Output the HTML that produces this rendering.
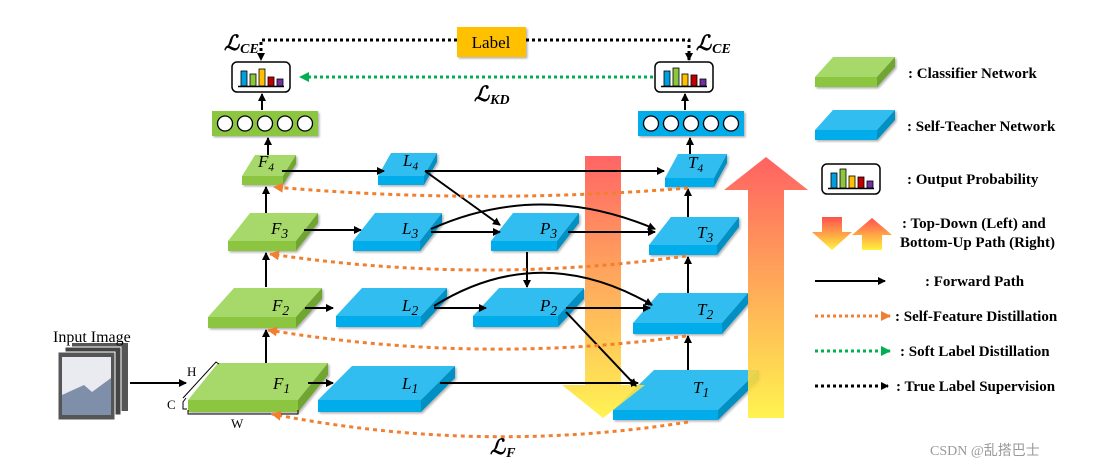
<!DOCTYPE html>
<html><head><meta charset="utf-8"><style>
html,body{margin:0;padding:0;background:#fff;}
svg text{font-family:"Liberation Serif",serif;}
.it{font-style:italic;font-size:17px;}
.lg{font-weight:bold;font-size:15px;}
</style></head><body>
<svg id="s" width="1097" height="467" viewBox="0 0 1097 467" xmlns="http://www.w3.org/2000/svg">
<defs>
<linearGradient id="gd" x1="0" y1="0" x2="0" y2="1"><stop offset="0" stop-color="#FF5050"/><stop offset="1" stop-color="#FFF23C"/></linearGradient>
<marker id="ab" markerWidth="8" markerHeight="8" refX="7" refY="4" orient="auto" markerUnits="userSpaceOnUse"><path d="M0,0L8,4L0,8z" fill="#000"/></marker>
<marker id="ao" markerWidth="10" markerHeight="10" refX="9" refY="5" orient="auto" markerUnits="userSpaceOnUse"><path d="M0,0L10,5L0,10z" fill="#F08030"/></marker>
<marker id="ag" markerWidth="10" markerHeight="10" refX="9" refY="5" orient="auto" markerUnits="userSpaceOnUse"><path d="M0,0L10,5L0,10z" fill="#00B050"/></marker>
<filter id="sh"><feDropShadow dx="1.5" dy="1.5" stdDeviation="1" flood-opacity="0.3"/></filter>
</defs>
<g id="blocks"></g>
<g id="over"></g>
</svg>
<script>
const NS="http://www.w3.org/2000/svg";
const svg=document.getElementById('s');
function el(tag,attrs,parent,txt){const e=document.createElementNS(NS,tag);for(const k in attrs)e.setAttribute(k,attrs[k]);if(txt!==undefined)e.textContent=txt;(parent||svg).appendChild(e);return e;}
const B=document.getElementById('blocks');
function slab(x0,x1,y0,y1,t,s,c,p){
 const g=el('g',{filter:'url(#sh)'},p||B);
 const yb=y1-t;
 el('polygon',{points:`${x0},${yb} ${x1-s},${yb} ${x1},${y0} ${x0+s},${y0}`,fill:c[0]},g);
 el('polygon',{points:`${x0},${yb} ${x1-s},${yb} ${x1-s},${y1} ${x0},${y1}`,fill:c[1]},g);
 el('polygon',{points:`${x1-s},${yb} ${x1},${y0} ${x1},${y0+t} ${x1-s},${y1}`,fill:c[2]},g);
}
const G=['#A6D96A','#8CC63F','#6FA533'],C=['#30BDF0','#00ADEA','#0090C4'];
function lab(x,y,l,sub,fs){const t=el('text',{x:x,y:y,class:'it','font-size':fs||18},B);t.textContent=l;el('tspan',{'font-size':(fs||18)*0.75,dy:4},t,sub);}
slab(188,328,363,412,12,30,G);lab(273,389,'F','1');
slab(318,455,366,412,12,34,C);lab(402,389,'L','1');
slab(613,759,370,420,10,41,C);lab(693,393,'T','1');
slab(208,322,288,328,11,26,G);lab(272,311,'F','2');
slab(336,447,288,327,11,26,C);lab(402,311,'L','2');
slab(473,584,288,327,11,26,C);lab(540,311,'P','2');
slab(633,748,293,334,11,26,C);lab(697,315,'T','2');
slab(228,318,213,251,10,22,G);lab(271,234,'F','3');
slab(353,442,213,251,10,22,C);lab(402,234,'L','3');
slab(491,579,213,251,10,22,C);lab(540,234,'P','3');
slab(649,739,217,255,10,22,C);lab(697,238,'T','3');
slab(242,296,155,185,9,13,G);lab(258,167,'F','4',15);
slab(378,437,153,185,9,13,C);lab(403,166,'L','4',15);
slab(665,727,154,187,9,13,C);lab(688,168,'T','4',15);
function bar(x,y,c){const g=el('g',{filter:'url(#sh)'},B);el('rect',{x:x,y:y,width:106,height:25,fill:c},g);for(let i=0;i<5;i++)el('circle',{cx:x+13+i*20,cy:y+12.5,r:7.5,fill:'#fff',stroke:'#000','stroke-width':1.3},g);}
bar(212,111,'#8CC63F');bar(638,111,'#00ADEA');
function prob(x,y,h){el('rect',{x:x,y:y,width:58,height:30,rx:5,fill:'#fff',stroke:'#000','stroke-width':1.5},B);
 const cols=['#00A0E0','#8CC63F','#FFC000','#C00000','#7030A0'];
 for(let i=0;i<5;i++){el('rect',{x:x+9+i*9,y:y+24-h[i],width:6,height:h[i],fill:cols[i],stroke:'#000','stroke-width':0.8},B);}
 el('line',{x1:x+6,y1:y+24.5,x2:x+52,y2:y+24.5,stroke:'#000','stroke-width':1.5},B);}
prob(232,62,[15,12,17,9,7]);prob(655,62,[15,18,12,11,7]);
el('rect',{x:72,y:343,width:56,height:68,fill:'#555'},B);
el('rect',{x:65,y:347,width:56,height:68,fill:'#444',stroke:'#fff','stroke-width':1},B);
el('rect',{x:58,y:352,width:57,height:68,fill:'#555',stroke:'#fff','stroke-width':1},B);
el('rect',{x:62,y:357,width:49,height:58,fill:'#E9EBF0'},B);
el('polygon',{points:'62,395 84,385 92,392 111,378 111,415 62,415',fill:'#7F8FA9'},B);
el('text',{x:53,y:342,'font-size':16},B,'Input Image');
el('polyline',{points:'186,398 183,402 183,409 187,409',fill:'none',stroke:'#000','stroke-width':1},B);
el('polyline',{points:'183,398 216,362 219,364',fill:'none',stroke:'#000','stroke-width':1},B);
el('polyline',{points:'188,410 188,414 298,414 298,410',fill:'none',stroke:'#000','stroke-width':1},B);
el('text',{x:187,y:376,'font-size':13},B,'H');
el('text',{x:167,y:409,'font-size':13},B,'C');
el('text',{x:231,y:428,'font-size':13},B,'W');
const O=document.getElementById('over');
el('polygon',{points:'585,156 621,156 621,385 645,385 603,418 562,385 585,385',fill:'url(#gd)',opacity:0.88},O);
el('polygon',{points:'748,418 784,418 784,190 808,190 766,157 724,190 748,190',fill:'url(#gd)',opacity:0.9},O);
function ln(x1,y1,x2,y2){el('line',{x1,y1,x2,y2,stroke:'#000','stroke-width':2,'marker-end':'url(#ab)'},O);}
function pth(d,st,m,w,da){el('path',{d:d,fill:'none',stroke:st,'stroke-width':w||2,'marker-end':m?`url(#${m})`:'', 'stroke-dasharray':da||''},O);}
ln(130,383,186,383);
ln(308,383,333,383);ln(440,383,638,383);
ln(305,308,333,308);ln(434,308,486,308);ln(566,308,650,308);
pth('M434,306 Q540,240 652,305','#000','ab');
ln(566,312,636,386);
ln(527,252,527,287);
ln(304,230,361,230);ln(431,232,500,232);ln(568,232,655,232);
pth('M431,229 Q540,180 655,229','#000','ab');
ln(282,171,384,171);ln(425,171,664,171);ln(425,171,500,225);
ln(266,363,266,330);ln(266,287,266,253);ln(266,213,266,187);ln(268,155,268,138);ln(262,110,262,94);
ln(688,370,688,336);ln(688,293,688,257);ln(688,217,688,189);ln(690,154,690,138);ln(685,110,685,94);
const od='4 4';
pth('M688,188 Q480,205 274,187','#F08030','ao',3,od);
pth('M686,256 Q480,285 270,254','#F08030','ao',3,od);
pth('M686,336 Q480,365 268,330','#F08030','ao',3,od);
pth('M688,422 Q480,455 272,414','#F08030','ao',3,od);
el('rect',{x:457,y:27,width:69,height:30,fill:'#FFC000',filter:'url(#sh)'},O);
el('text',{x:491,y:48,'font-size':17,'text-anchor':'middle'},O,'Label');
pth('M457,40 L261,40 L261,60','#000','ab',3,'3 3');
pth('M526,40 L689,40 L689,60','#000','ab',3,'3 3');
pth('M653,77 L300,77','#00B050','ag',3,'3 3');
function L(x,y,sub){const t=el('text',{x:x,y:y,'font-size':21,'font-weight':'bold','font-style':'italic'},O);t.textContent='ℒ';el('tspan',{'font-size':14,dy:3,dx:1},t,sub);}
L(224,50,'CE');L(696,50,'CE');L(474,101,'KD');L(490,454,'F');
slab(815,895,57,87,10,18,G,O);
slab(815,895,110,140,10,18,C,O);
prob(822,164,[15,19,12,11,7]);
el('polygon',{points:'822,217 842,217 842,232 852,232 832,250 812,232 822,232',fill:'url(#gd)'},O);
el('polygon',{points:'862,250 882,250 882,235 892,235 872,218 852,235 862,235',fill:'url(#gd)'},O);
ln(815,281,885,281);
pth('M815,316 L890,316','#F08030','ao',3,'3 3');
pth('M815,351 L890,351','#00B050','ag',3,'3 3');
pth('M815,386 L888,386','#000','ab',3,'3 3');
function T(x,y,s){el('text',{x:x,y:y,class:'lg'},O,s);}
T(908,78,':   Classifier Network');
T(907,131,':   Self-Teacher Network');
T(907,184,':   Output Probability');
T(902,228,':   Top-Down (Left) and');
T(900,247,'Bottom-Up Path (Right)');
T(925,286,':   Forward Path');
T(895,321,':  Self-Feature Distillation');
T(900,356,':  Soft Label Distillation');
T(896,391,':  True Label Supervision');
el('text',{x:930,y:455,'font-size':14,fill:'#999','font-family':'"Liberation Sans","Noto Sans CJK SC",sans-serif'},O,'CSDN @乱搭巴士');
</script>
</body></html>
